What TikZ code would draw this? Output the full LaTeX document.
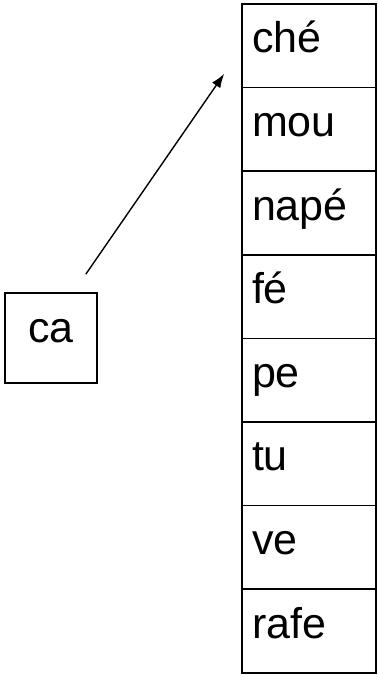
\documentclass[tikz,border=0pt]{standalone}
\usepackage{fontspec}
\setmainfont{Liberation Sans}
\usetikzlibrary{arrows.meta}

\begin{document}
\begin{tikzpicture}[x=1pt,y=-1pt,
    cell/.style={draw,line width=1.6pt,minimum width=134pt,minimum height=83.6pt,
      text width=114pt,align=left,inner xsep=10pt,text height=24pt,text depth=10pt,
      font=\fontsize{43}{50}\selectfont}]
  \useasboundingbox (0,0) rectangle (378,675);
  % the column of words
  \foreach \w [count=\i] in {ché,mou,napé,fé,pe,tu,ve,rafe}
    \node[cell] (w\i) at (309,{4+83.6*(\i-0.5)}) {\w};
  \node[draw,line width=1.6pt,minimum width=92pt,minimum height=90pt,
    text height=20pt,text depth=12pt,font=\fontsize{43}{50}\selectfont] (ca) at (51,338) {ca};
  \draw[line width=1.4pt,-{Latex[length=14pt,width=10pt]}] ([shift={(-12,-18)}]ca.north east) -- ([shift={(-17,28)}]w1.west);
\end{tikzpicture}
\end{document}
